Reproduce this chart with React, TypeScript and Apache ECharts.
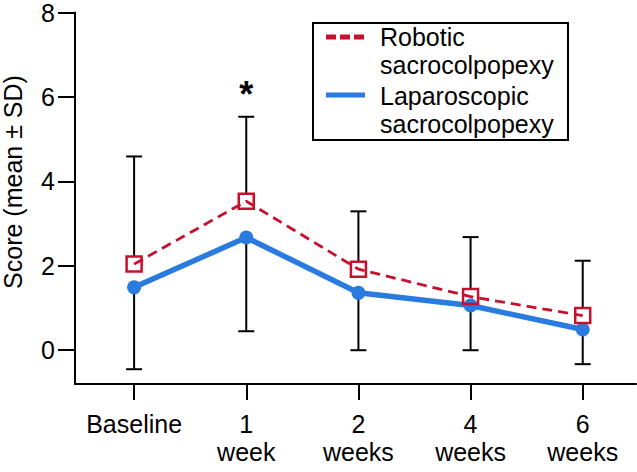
import React, { useEffect, useRef } from "react";
import * as echarts from "echarts";

const categories = ["Baseline", "1\nweek", "2\nweeks", "4\nweeks", "6\nweeks"];
const xPositions = [0, 1, 2, 3, 4];
const roboticMean = [2.04, 3.53, 1.92, 1.27, 0.82];
const roboticSD = [2.55, 2.0, 1.37, 1.41, 1.3];
const laparoscopicMean = [1.49, 2.67, 1.36, 1.06, 0.49];
const laparoscopicSD = [1.94, 2.22, 1.36, 1.06, 0.82];
const yTicks = [0, 2, 4, 6, 8];
const significantIndex = 1;

const RED = "#c8102e";
const BLUE = "#2a7be0";
const FONT = "Liberation Sans, Arial, sans-serif";

export default function App() {
  const ref = useRef<HTMLDivElement>(null);
  useEffect(() => {
    document.body.style.margin = "0";
    if (!ref.current) return;
    const chart = echarts.init(ref.current, undefined, { renderer: "svg" });
    const errData = xPositions.map((x, i) => [
      x,
      roboticMean[i] + roboticSD[i],
      roboticMean[i],
      laparoscopicMean[i],
      laparoscopicMean[i] - laparoscopicSD[i],
    ]);
    chart.setOption({
      animation: false,
      textStyle: { fontFamily: FONT },
      grid: { left: 75, right: 1, top: 10, bottom: 88 },
      xAxis: {
        type: "value",
        min: -0.527,
        max: 4.475,
        axisLine: { show: true, onZero: false, lineStyle: { color: "#000", width: 2 } },
        axisTick: { show: true, customValues: xPositions, length: 16, lineStyle: { color: "#000", width: 2 } },
        axisLabel: {
          customValues: xPositions,
          formatter: (v: number) => categories[Math.round(v)] ?? "",
          color: "#000",
          fontSize: 25,
          lineHeight: 28,
          fontFamily: FONT,
          margin: 26,
        },
        splitLine: { show: false },
      },
      yAxis: {
        type: "value",
        min: -0.8,
        max: 8,
        axisLine: { show: true, onZero: false, lineStyle: { color: "#000", width: 2 } },
        axisTick: { show: true, customValues: yTicks, length: 17, lineStyle: { color: "#000", width: 2 } },
        axisLabel: { customValues: yTicks, color: "#000", fontSize: 25, fontFamily: FONT, margin: 20 },
        splitLine: { show: false },
      },
      series: [
        {
          type: "custom",
          z: 1,
          data: errData,
          renderItem: (params: any, api: any) => {
            const x = api.value(0);
            const hi = api.coord([x, api.value(1)]);
            const rm = api.coord([x, api.value(2)]);
            const bm = api.coord([x, api.value(3)]);
            const lo = api.coord([x, api.value(4)]);
            const cap = 8;
            const style = { stroke: "#000", lineWidth: 2 };
            return {
              type: "group",
              children: [
                { type: "line", shape: { x1: hi[0], y1: hi[1], x2: rm[0], y2: rm[1] - 8 }, style },
                { type: "line", shape: { x1: bm[0], y1: bm[1], x2: lo[0], y2: lo[1] }, style },
                { type: "line", shape: { x1: hi[0] - cap, y1: hi[1], x2: hi[0] + cap, y2: hi[1] }, style },
                { type: "line", shape: { x1: lo[0] - cap, y1: lo[1], x2: lo[0] + cap, y2: lo[1] }, style },
              ],
            };
          },
        },
        {
          name: "Laparoscopic sacrocolpopexy",
          type: "line",
          z: 3,
          data: xPositions.map((x, i) => [x, laparoscopicMean[i]]),
          symbol: "circle",
          symbolSize: 14,
          lineStyle: { color: BLUE, width: 5.5 },
          itemStyle: { color: BLUE },
        },
        {
          name: "Robotic sacrocolpopexy",
          type: "line",
          z: 4,
          data: xPositions.map((x, i) => [x, roboticMean[i]]),
          symbol: "rect",
          symbolSize: 15,
          lineStyle: { color: RED, width: 2.8, type: [10, 6] },
          itemStyle: { color: "rgba(255,255,255,0)", borderColor: RED, borderWidth: 2.5 },
          markPoint: {
            symbol: "circle",
            symbolSize: 0.1,
            itemStyle: { color: "rgba(0,0,0,0)" },
            label: {
              show: true,
              formatter: "*",
              color: "#000",
              fontSize: 36,
              fontWeight: "bold",
              fontFamily: FONT,
              position: "inside",
            },
            data: [{ coord: [xPositions[significantIndex], 6.05] }],
          },
        },
      ],
      graphic: [
        {
          type: "text",
          x: 13,
          y: 182,
          rotation: Math.PI / 2,
          style: {
            text: "Score (mean ± SD)",
            fill: "#000",
            font: `25px ${FONT}`,
            align: "center",
            verticalAlign: "middle",
          },
        },
        {
          type: "group",
          left: 312,
          top: 22,
          children: [
            { type: "rect", shape: { x: 0, y: 0, width: 255, height: 117 }, style: { fill: "#fff", stroke: "#000", lineWidth: 2 } },
            { type: "line", shape: { x1: 13, y1: 14, x2: 52, y2: 14 }, style: { stroke: RED, lineWidth: 5, lineDash: [10, 4] } },
            { type: "line", shape: { x1: 13, y1: 72, x2: 52, y2: 72 }, style: { stroke: BLUE, lineWidth: 5 } },
            {
              type: "text",
              x: 67,
              y: 0,
              style: { text: "Robotic\nsacrocolpopexy", fill: "#000", font: `25px ${FONT}`, lineHeight: 28, verticalAlign: "top" },
            },
            {
              type: "text",
              x: 67,
              y: 59,
              style: { text: "Laparoscopic\nsacrocolpopexy", fill: "#000", font: `25px ${FONT}`, lineHeight: 28, verticalAlign: "top" },
            },
          ],
        },
      ],
    });
    return () => chart.dispose();
  }, []);
  return <div ref={ref} style={{ width: 637, height: 472 }} />;
}
